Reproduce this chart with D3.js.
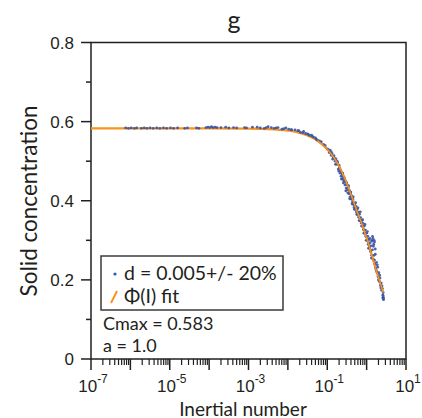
<!DOCTYPE html>
<html>
<head>
<meta charset="utf-8">
<script src="https://cdn.jsdelivr.net/npm/d3@7"></script>
<style>
  body { margin: 0; background: #fff; }
  svg { display: block; }
  .tick-label { font-family: "Liberation Sans", Arial, sans-serif; font-size: 17px; fill: #231f20; }
  .lab { font-family: Lato, "Open Sans", sans-serif; fill: #231f20; }
</style>
</head>
<body>
<script>
// ---- data ----
const title = "g";
const xTitle = "Inertial number";
const yTitle = "Solid concentration";
const yTicks = [0, 0.2, 0.4, 0.6, 0.8];
const yTickText = ["0", "0.2", "0.4", "0.6", "0.8"];
const yMinor = [0.1, 0.3, 0.5, 0.7];
const xLabelExp = [-7, -5, -3, -1, 1];

// fit curve (log10 I, C)
const fitLogI = [-7, -6, -5, -4, -3, -2.5, -2, -1.75, -1.5, -1.25, -1, -0.875, -0.75, -0.625, -0.5, -0.375, -0.25, -0.125, 0, 0.125, 0.25, 0.375, 0.42];
const fitC = [0.583, 0.583, 0.583, 0.583, 0.5824, 0.5812, 0.5772, 0.5729, 0.5650, 0.5520, 0.530, 0.515, 0.496, 0.472, 0.443, 0.410, 0.375, 0.342, 0.306, 0.265, 0.222, 0.183, 0.168];

// simulation points (log10 I, C)
const simLogI = [
  -6.12, -6.05, -5.98, -5.9, -5.84, -5.72, -5.65, -5.58, -5.5, -5.42, -5.33, -5.25, -5.16, -5.08, -4.98, -4.9, -4.8, -4.62, -4.55,
  -4.32, -4.26, -4.08, -4.03, -3.98, -3.94, -3.9, -3.85, -3.8, -3.7, -3.58, -3.5, -3.38, -3.3, -3.1, -3.05, -2.78,
  -2.7, -2.6, -2.5, -2.42, -2.35, -2.25, -2.15, -2.05, -1.98, -1.9, -1.82, -1.75, -1.68, -1.6, -1.55, -1.5, -1.45, -1.4,
  -1.35, -1.3, -1.25, -1.2, -1.15, -1.1, -1.05, -1.0,
  -0.98, -0.95, -0.93, -0.9, -0.88, -0.85, -0.83, -0.8, -0.78, -0.76, -0.74, -0.72, -0.7, -0.68, -0.66, -0.65, -0.63, -0.62,
  -0.6, -0.58, -0.57, -0.55, -0.54, -0.52, -0.5, -0.49, -0.47, -0.45, -0.44, -0.42, -0.41, -0.39, -0.38, -0.36, -0.35, -0.33,
  -0.32, -0.3, -0.29, -0.27, -0.26, -0.24, -0.23, -0.21, -0.2, -0.18, -0.17, -0.15, -0.14, -0.12, -0.11, -0.09, -0.08, -0.06,
  -0.05, -0.03, -0.02, 0.0, 0.01, 0.03, 0.04, 0.06, 0.07, 0.09, 0.1, 0.11, 0.13, 0.14, 0.15, 0.16, 0.17, 0.18, 0.19, 0.2,
  0.21, 0.22, 0.23, 0.25, 0.26, 0.28, 0.29, 0.31, 0.32, 0.34, 0.35, 0.37, 0.38, 0.4, 0.41, 0.42, 0.43, 0.42,
  -0.9, -0.86, -0.82, -0.79, -0.75, -0.71, -0.69, -0.64, -0.61, -0.59, -0.56, -0.53, -0.51, -0.48, -0.46, -0.43, -0.4, -0.37,
  -0.34, -0.31, -0.28, -0.25, -0.22, -0.19, -0.16, -0.13, -0.1, -0.07, -0.04, -0.01, 0.02, 0.05, 0.08, 0.12, 0.13, 0.15,
  0.17, 0.19, 0.2, 0.22, 0.24, 0.27, 0.3, 0.33, 0.36, 0.39, 0.41, 0.43, 0.42,
  -2.9, -2.55, -2.3, -2.1, -1.92, -1.72, -1.62, -1.48, -1.38, -1.28, -1.18, -1.08
];
const simC = [
  0.584, 0.583, 0.584, 0.583, 0.584, 0.583, 0.584, 0.583, 0.584, 0.583, 0.584, 0.583, 0.584, 0.583, 0.584, 0.583, 0.584, 0.583, 0.584,
  0.584, 0.583, 0.585, 0.586, 0.585, 0.587, 0.585, 0.586, 0.585, 0.585, 0.586, 0.584, 0.585, 0.584, 0.585, 0.584, 0.586,
  0.584, 0.583, 0.587, 0.585, 0.583, 0.585, 0.581, 0.584, 0.581, 0.579, 0.579, 0.577, 0.573, 0.575, 0.570, 0.569, 0.565, 0.566,
  0.561, 0.559, 0.553, 0.551, 0.549, 0.542, 0.539, 0.531,
  0.530, 0.522, 0.528, 0.515, 0.520, 0.509, 0.514, 0.500, 0.506, 0.492, 0.497, 0.480, 0.490, 0.470, 0.476, 0.462, 0.468, 0.455,
  0.461, 0.450, 0.458, 0.440, 0.448, 0.432, 0.441, 0.428, 0.435, 0.418, 0.426, 0.410, 0.419, 0.404, 0.412, 0.397, 0.404, 0.390,
  0.383, 0.392, 0.379, 0.386, 0.372, 0.378, 0.364, 0.371, 0.358, 0.366, 0.350, 0.357, 0.344, 0.350, 0.336, 0.343, 0.327, 0.336,
  0.318, 0.326, 0.310, 0.318, 0.300, 0.310, 0.290, 0.302, 0.282, 0.294, 0.272, 0.286, 0.262, 0.298, 0.276, 0.305, 0.252, 0.290, 0.262, 0.296,
  0.240, 0.278, 0.230, 0.244, 0.220, 0.232, 0.208, 0.218, 0.196, 0.205, 0.186, 0.192, 0.174, 0.178, 0.162, 0.168, 0.155, 0.152,
  0.524, 0.505, 0.508, 0.492, 0.500, 0.475, 0.483, 0.455, 0.470, 0.445, 0.452, 0.425, 0.446, 0.420, 0.438, 0.405, 0.422, 0.392,
  0.410, 0.378, 0.395, 0.366, 0.382, 0.350, 0.372, 0.336, 0.352, 0.318, 0.340, 0.300, 0.322, 0.280, 0.305, 0.255, 0.300, 0.310,
  0.285, 0.300, 0.250, 0.265, 0.225, 0.238, 0.200, 0.212, 0.180, 0.185, 0.155, 0.150, 0.160,
  0.586, 0.585, 0.584, 0.582, 0.580, 0.577, 0.572, 0.568, 0.563, 0.556, 0.549, 0.541
];

const legendSim = "d = 0.005+/- 20%";
const legendFit = "\u03A6(I) fit";
const notes = ["Cmax = 0.583", "a = 1.0"];

// ---- layout ----
const W = 422, H = 418;
const x = d3.scaleLog().domain([1e-7, 10]).range([91, 406]);
const y = d3.scaleLinear().domain([0, 0.8]).range([359, 42.5]);
const ink = "#231f20";
const blue = "#3953a4";
const orange = "#f7931e";

const svg = d3.select("body").append("svg").attr("width", W).attr("height", H);

// frame
svg.append("rect")
  .attr("x", x.range()[0]).attr("y", y.range()[1])
  .attr("width", x.range()[1] - x.range()[0])
  .attr("height", y.range()[0] - y.range()[1])
  .attr("fill", "none").attr("stroke", ink).attr("stroke-width", 1.5);

// y ticks
svg.selectAll(".ymaj").data(yTicks).enter().append("line")
  .attr("x1", 81).attr("x2", 91)
  .attr("y1", d => y(d)).attr("y2", d => y(d))
  .attr("stroke", ink).attr("stroke-width", 1.5);
svg.selectAll(".ymin").data(yMinor).enter().append("line")
  .attr("x1", 86).attr("x2", 91)
  .attr("y1", d => y(d)).attr("y2", d => y(d))
  .attr("stroke", ink).attr("stroke-width", 1.5);
svg.selectAll(".ylab").data(yTicks).enter().append("text")
  .attr("class", "tick-label")
  .attr("x", 74).attr("y", d => y(d) + 6)
  .attr("text-anchor", "end")
  .text((d, i) => yTickText[i]);

// x ticks (every decade major, 2..9 minor)
const decades = d3.range(-7, 2);
svg.selectAll(".xmaj").data(decades).enter().append("line")
  .attr("x1", d => x(Math.pow(10, d))).attr("x2", d => x(Math.pow(10, d)))
  .attr("y1", 359).attr("y2", 370)
  .attr("stroke", ink).attr("stroke-width", 1.5);
const minors = [];
decades.slice(0, -1).forEach(e => { for (let k = 2; k < 10; k++) minors.push(k * Math.pow(10, e)); });
svg.selectAll(".xmin").data(minors).enter().append("line")
  .attr("x1", d => x(d)).attr("x2", d => x(d))
  .attr("y1", 359).attr("y2", 365)
  .attr("stroke", ink).attr("stroke-width", 1.2);
const xl = svg.selectAll(".xlab").data(xLabelExp).enter().append("text")
  .attr("class", "tick-label")
  .attr("x", d => x(Math.pow(10, d)) + 2).attr("y", 392)
  .attr("text-anchor", "middle");
xl.append("tspan").text("10");
xl.append("tspan").attr("dy", -9).style("font-size", "12px").text(d => d);

// fit curve
const fitPts = fitLogI.map((l, i) => [Math.pow(10, l), fitC[i]]);
const fitLine = d3.line().x(d => x(d[0])).y(d => y(d[1])).curve(d3.curveMonotoneX);
svg.append("path")
  .attr("d", fitLine(fitPts))
  .attr("fill", "none").attr("stroke", orange).attr("stroke-width", 2.2);

// sim points
const simPts = simLogI.map((l, i) => [Math.pow(10, l), simC[i]]);
svg.selectAll(".sim").data(simPts).enter().append("circle")
  .attr("cx", d => x(d[0])).attr("cy", d => y(d[1]))
  .attr("r", 1.4).attr("fill", blue).attr("fill-opacity", 0.9);

// curve drawn again on top in the steep part
svg.append("path")
  .attr("d", fitLine(fitPts.slice(9)))
  .attr("fill", "none").attr("stroke", orange).attr("stroke-width", 1.6);

// title and axis titles
svg.append("text").attr("class", "lab").attr("x", 234).attr("y", 29)
  .attr("text-anchor", "middle").style("font-size", "25px").text(title);
svg.append("text").attr("class", "lab").attr("x", 243).attr("y", 415.5)
  .attr("text-anchor", "middle").style("font-size", "19px").text(xTitle);
svg.append("text").attr("class", "lab")
  .attr("transform", "translate(37,201) rotate(-90)")
  .attr("text-anchor", "middle").style("font-size", "22.5px").text(yTitle);

// legend
svg.append("rect").attr("x", 101).attr("y", 256).attr("width", 182).attr("height", 54)
  .attr("fill", "#fff").attr("stroke", "#3a3a3a").attr("stroke-width", 1.5);
svg.append("circle").attr("cx", 115).attr("cy", 274).attr("r", 1.6).attr("fill", blue);
svg.append("line").attr("x1", 111).attr("y1", 303).attr("x2", 117).attr("y2", 291)
  .attr("stroke", orange).attr("stroke-width", 2);
svg.append("text").attr("class", "lab").attr("x", 124).attr("y", 280).style("font-size", "19.5px").text(legendSim);
svg.append("text").attr("class", "lab").attr("x", 124).attr("y", 303).style("font-size", "19.5px").text(legendFit);
svg.selectAll(".note").data(notes).enter().append("text")
  .attr("class", "lab").attr("x", 103).attr("y", (d, i) => 330 + i * 21.5)
  .style("font-size", "18px").text(d => d);
</script>
</body>
</html>
